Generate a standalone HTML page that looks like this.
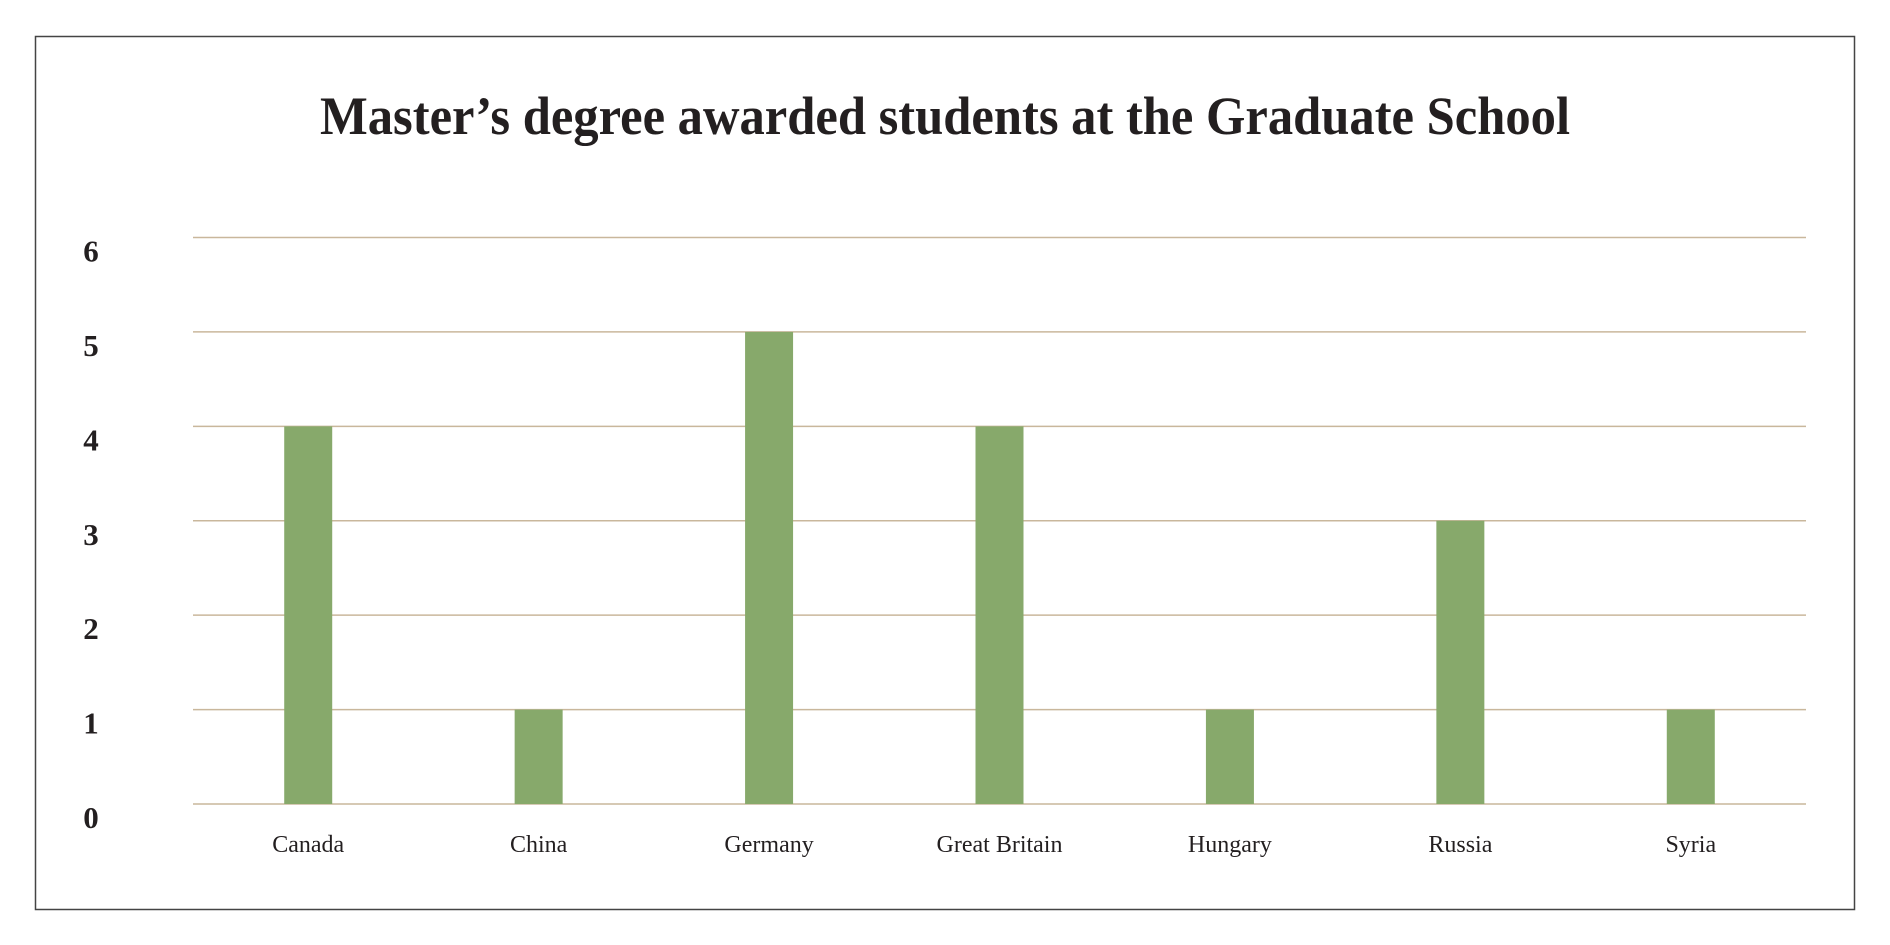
<!DOCTYPE html>
<html><head><meta charset="utf-8"><style>
html,body{margin:0;padding:0;background:#fff;}
svg{display:block;}
</style></head><body>
<svg id="chart" width="1890" height="945" viewBox="0 0 1890 945">
<rect x="35.5" y="36.5" width="1819" height="873" fill="#fff" stroke="#444" stroke-width="1.5"/>
<text x="945" y="134" text-anchor="middle" font-family="'Liberation Serif',serif" font-weight="bold" font-size="54" fill="#231f20" textLength="1250" lengthAdjust="spacingAndGlyphs">Master’s degree awarded students at the Graduate School</text>
<g id="grid"></g><g id="bars"></g><g id="ylabels"></g><g id="xlabels"></g>
</svg>
<script>
const categories = ["Canada","China","Germany","Great Britain","Hungary","Russia","Syria"];
const values = [4,1,5,4,1,3,1];
const yTicks = [0,1,2,3,4,5,6];
const ns="http://www.w3.org/2000/svg";
const x0=193,x1=1806,yBase=804,yTop=237.5,yMax=6;
const band=(x1-x0)/categories.length;
const xC=i=>x0+band*(i+0.5);
const yS=v=>yBase-(yBase-yTop)*v/yMax;
function mk(t,a,p){const e=document.createElementNS(ns,t);for(const k in a)e.setAttribute(k,a[k]);p.appendChild(e);return e;}
const g=document.getElementById('grid'),b=document.getElementById('bars'),yl=document.getElementById('ylabels'),xl=document.getElementById('xlabels');
yTicks.forEach(t=>{
  const l=mk('line',{x1:x0,x2:x1,y1:yS(t),y2:yS(t),stroke:'#c9b79c','stroke-width':1.5},g);
  
  
  const tx=mk('text',{x:91,y:yS(t)+24,'text-anchor':'middle','font-family':"'Liberation Serif',serif",'font-weight':'bold','font-size':31,fill:'#231f20'},yl);
  tx.textContent=t;
  
  
});
categories.forEach((c,i)=>{
  const w=48;
  const r=mk('rect',{x:xC(i)-w/2,y:yS(values[i]),width:w,height:yBase-yS(values[i]),fill:'#87a96b'},b);
  
  
  const t=mk('text',{x:xC(i),y:852,'text-anchor':'middle','font-family':"'Liberation Serif',serif",'font-size':24,fill:'#231f20'},xl);
  t.textContent=c;
  
  
});
</script>
</body></html>
